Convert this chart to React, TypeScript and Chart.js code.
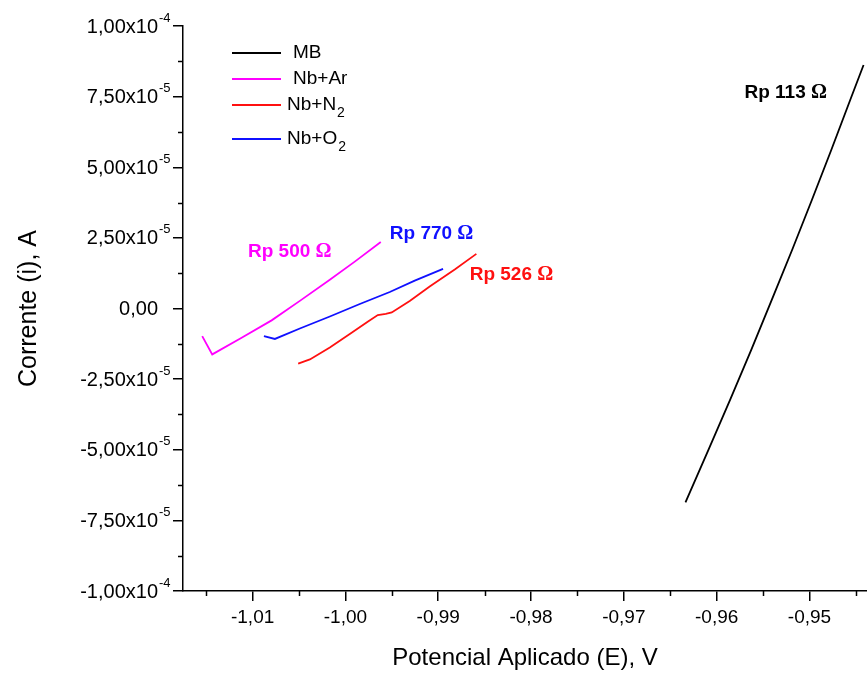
import React, { useEffect, useRef } from 'react';
import { Chart, registerables } from 'chart.js';

Chart.register(...registerables);

const W = 867;
const H = 673;
const SANS = '"Liberation Sans", Arial, Helvetica, sans-serif';
const SERIF = '"Liberation Serif", "Times New Roman", serif';

// ---- data: potential (V) and current (A) ----
const mbPotential = [-0.96336, -0.96085, -0.95853, -0.95625, -0.95404, -0.95186, -0.94973, -0.94764, -0.9456, -0.94417];
const mbCurrent = [-6.86e-5, -4.98e-5, -3.22e-5, -1.45e-5, 0.32e-5, 2.08e-5, 3.85e-5, 5.62e-5, 7.39e-5, 8.62e-5];

const arPotential = [-1.01543, -1.01435, -1.01137, -1.00795, -1.00491, -1.00168, -0.99899, -0.99619];
const arCurrent = [-0.979e-5, -1.625e-5, -1.07e-5, -0.42e-5, 0.27e-5, 1.02e-5, 1.66e-5, 2.357e-5];

const n2Potential = [-1.00509, -1.00383, -1.00168, -0.99953, -0.99756, -0.99651, -0.99565, -0.99501, -0.99307, -0.99092, -0.98822, -0.98589];
const n2Current = [-1.954e-5, -1.802e-5, -1.378e-5, -0.901e-5, -0.459e-5, -0.23e-5, -0.194e-5, -0.141e-5, 0.265e-5, 0.777e-5, 1.378e-5, 1.933e-5];

const o2Potential = [-1.00878, -1.0076, -1.00491, -1.00168, -0.99845, -0.99522, -0.99253, -0.98948];
const o2Current = [-0.979e-5, -1.078e-5, -0.707e-5, -0.283e-5, 0.159e-5, 0.583e-5, 0.989e-5, 1.403e-5];

const seriesNames = ['MB', 'Nb+Ar', 'Nb+N₂', 'Nb+O₂'];
const seriesColors = ['#000000', '#ff00ff', '#ff1010', '#1010ff'];

// legend text pieces (base + subscript)
const legendBase = ['MB', 'Nb+Ar', 'Nb+N', 'Nb+O'];
const legendSub = ['', '', '2', '2'];

// polarisation-resistance annotations (anchored in data units)
const rpText = ['Rp 113 ', 'Rp 500 ', 'Rp 526 ', 'Rp 770 '];
const rpPotential = [-0.957, -1.0105, -0.98661, -0.99522];
const rpCurrent = [7.63e-5, 2.01e-5, 1.2e-5, 2.65e-5];

// axes
const xMin = -1.0175;
const xMax = -0.9438;
const xStep = 0.01;
const yMin = -1e-4;
const yMax = 1e-4;
const yStep = 2.5e-5;
const xTitle = 'Potencial Aplicado (E), V';
const yTitle = 'Corrente (i), A';

const TICK_FONT = 19;
const YTICK_FONT = 20;
const SUP_FONT = 13;

function toPoints(xs: number[], ys: number[]) {
  return xs.map((x, i) => ({ x, y: ys[i] }));
}

function sciParts(v: number): [string, string] {
  if (Math.abs(v) < 1e-12) return ['0,00', ''];
  const e = Math.floor(Math.log10(Math.abs(v)) + 1e-9);
  const m = v / Math.pow(10, e);
  return [m.toFixed(2).replace('.', ',') + 'x10', String(e)];
}

const decorPlugin = {
  id: 'decor',
  afterDraw(chart: any) {
    const { ctx, chartArea } = chart;
    const xs = chart.scales.x;
    const ys = chart.scales.y;
    ctx.save();

    // minor ticks
    ctx.strokeStyle = '#000';
    ctx.lineWidth = 1.5;
    const xt = xs.ticks.map((t: any) => t.value);
    if (xt.length > 1) {
      const st = xt[1] - xt[0];
      for (let i = -1; i < xt.length; i++) {
        const v = xt[0] + (i + 0.5) * st;
        if (v < xs.min || v > xs.max) continue;
        const px = Math.round(xs.getPixelForValue(v)) + 0.5;
        ctx.beginPath();
        ctx.moveTo(px, chartArea.bottom);
        ctx.lineTo(px, chartArea.bottom + 5);
        ctx.stroke();
      }
    }
    const yt = ys.ticks.map((t: any) => t.value);
    if (yt.length > 1) {
      const st = yt[1] - yt[0];
      for (let i = 0; i < yt.length - 1; i++) {
        const v = yt[0] + (i + 0.5) * st;
        const py = Math.round(ys.getPixelForValue(v)) + 0.5;
        ctx.beginPath();
        ctx.moveTo(chartArea.left - 5, py);
        ctx.lineTo(chartArea.left, py);
        ctx.stroke();
      }
    }

    // y tick labels with superscript exponents
    ctx.fillStyle = '#000';
    ctx.textBaseline = 'middle';
    const labelRight = chartArea.left - 25;
    for (const t of ys.ticks) {
      const py = ys.getPixelForValue(t.value);
      const [mant, exp] = sciParts(t.value);
      ctx.font = `${YTICK_FONT}px ${SANS}`;
      ctx.textAlign = 'right';
      ctx.fillText(mant, labelRight, py + 1);
      if (exp) {
        ctx.font = `${SUP_FONT}px ${SANS}`;
        ctx.textAlign = 'left';
        ctx.fillText(exp, labelRight + 1, py - 8);
      }
    }

    // legend
    const lx0 = chartArea.left + 49;
    const lx1 = chartArea.left + 98;
    const rowY = [27, 53, 79, 113];
    const textX = [110, 110, 104, 104];
    for (let i = 0; i < legendBase.length; i++) {
      const y = chartArea.top + rowY[i];
      ctx.strokeStyle = seriesColors[i];
      ctx.lineWidth = 1.8;
      ctx.beginPath();
      ctx.moveTo(lx0, y);
      ctx.lineTo(lx1, y);
      ctx.stroke();
      ctx.fillStyle = '#000';
      ctx.font = `19px ${SANS}`;
      ctx.textAlign = 'left';
      const tx = chartArea.left + textX[i];
      ctx.fillText(legendBase[i], tx, y);
      if (legendSub[i]) {
        const w = ctx.measureText(legendBase[i]).width;
        ctx.font = `14px ${SANS}`;
        ctx.fillText(legendSub[i], tx + w + 1, y + 8);
      }
    }

    // Rp annotations
    for (let i = 0; i < rpText.length; i++) {
      const px = xs.getPixelForValue(rpPotential[i]);
      const py = ys.getPixelForValue(rpCurrent[i]);
      ctx.fillStyle = seriesColors[i];
      ctx.textAlign = 'left';
      ctx.font = `bold 19px ${SANS}`;
      ctx.fillText(rpText[i], px, py);
      const w = ctx.measureText(rpText[i]).width;
      ctx.font = `bold 20px ${SERIF}`;
      ctx.fillText('Ω', px + w, py);
    }
    ctx.restore();
  },
};

export default function App() {
  const ref = useRef<HTMLCanvasElement | null>(null);

  useEffect(() => {
    if (!ref.current) return;
    const allX = [mbPotential, arPotential, n2Potential, o2Potential];
    const allY = [mbCurrent, arCurrent, n2Current, o2Current];
    const chart = new Chart(ref.current, {
      type: 'scatter',
      data: {
        datasets: seriesNames.map((name, i) => ({
          label: name,
          data: toPoints(allX[i], allY[i]),
          showLine: true,
          borderColor: seriesColors[i],
          backgroundColor: seriesColors[i],
          borderWidth: 1.8,
          pointRadius: 0,
          pointHoverRadius: 0,
          tension: 0,
          fill: false,
        })),
      },
      options: {
        responsive: false,
        animation: false,
        devicePixelRatio: 1,
        layout: { padding: { top: 26, right: 0, bottom: 0, left: 0 } },
        plugins: {
          legend: { display: false },
          tooltip: { enabled: false },
        },
        scales: {
          x: {
            type: 'linear',
            position: 'bottom',
            min: xMin,
            max: xMax,
            afterFit: (s: any) => {
              s.height = 82;
            },
            border: { display: true, color: '#000', width: 1.5 },
            grid: {
              display: true,
              drawOnChartArea: false,
              drawTicks: true,
              tickLength: 10,
              color: '#000',
              lineWidth: 1.5,
            },
            ticks: {
              stepSize: xStep,
              includeBounds: false,
              autoSkip: false,
              maxRotation: 0,
              color: '#000',
              padding: 5,
              font: { family: SANS, size: TICK_FONT },
              callback: (v: any) => Number(v).toFixed(2).replace('.', ','),
            },
            title: {
              display: true,
              text: xTitle,
              color: '#000',
              font: { family: SANS, size: 24 },
              padding: { top: 0, bottom: 0 },
            },
          },
          y: {
            type: 'linear',
            position: 'left',
            min: yMin,
            max: yMax,
            afterFit: (s: any) => {
              s.width = 183;
            },
            border: { display: true, color: '#000', width: 1.5 },
            grid: {
              display: true,
              drawOnChartArea: false,
              drawTicks: true,
              tickLength: 10,
              color: '#000',
              lineWidth: 1.5,
            },
            ticks: {
              stepSize: yStep,
              display: false,
            },
            title: {
              display: true,
              text: yTitle,
              color: '#000',
              font: { family: SANS, size: 25 },
              padding: { top: 14, bottom: 0 },
            },
          },
        },
      },
      plugins: [decorPlugin],
    });
    return () => chart.destroy();
  }, []);

  return (
    <div style={{ position: 'fixed', left: 0, top: 0, width: W, height: H, background: '#fff' }}>
      <canvas ref={ref} width={W} height={H} style={{ display: 'block' }} />
    </div>
  );
}
